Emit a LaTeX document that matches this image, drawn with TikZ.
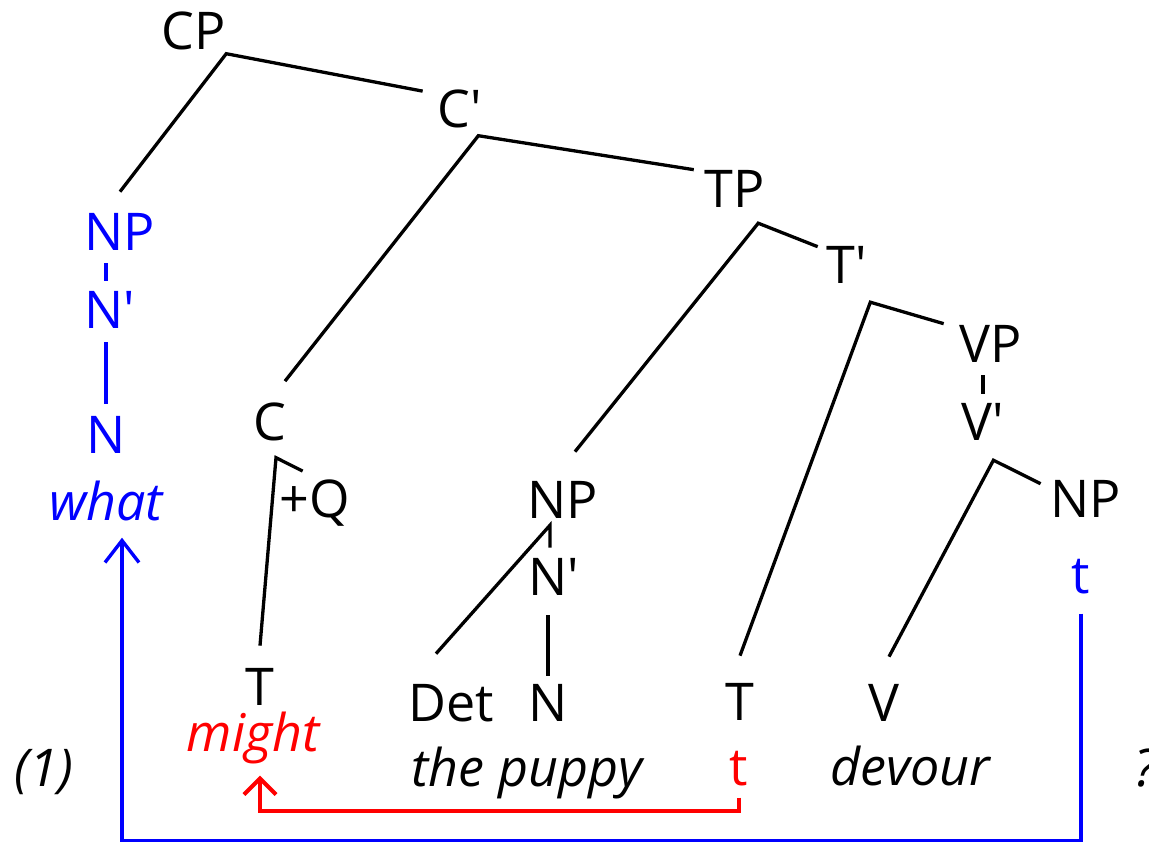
\documentclass[tikz,border=0pt]{standalone}
\usepackage{fontspec}
\setmainfont{Open Sans}
\usepackage{xcolor}
\usepackage{tikz}
\usetikzlibrary{arrows.meta}
\definecolor{TraceBlue}{RGB}{0, 0, 255}
\definecolor{TraceRed}{RGB}{255, 0, 0}
\newcommand{\treefont}{\fontsize{52}{62}\selectfont}
\newcommand{\prm}{\textquotesingle}
\tikzset{
  lbl/.style={anchor=base, inner sep=0pt, font=\treefont},
  wh/.style={lbl, text=TraceBlue},
  hd/.style={lbl, text=TraceRed},
  branch/.style={line width=3.3pt},
  whbranch/.style={branch, draw=TraceBlue},
  whmove/.style={line width=3.4pt, draw=TraceBlue, -{Straight Barb[length=22pt,width=34pt]}},
  hdmove/.style={line width=4pt, draw=TraceRed, -{Straight Barb[length=16pt,width=32pt]}},
}

\begin{document}
\begin{tikzpicture}[x=1pt, y=-1pt]
\useasboundingbox (0,0) rectangle (1149,843);
% labels
\node[lbl] (CP) at (194,50) {CP};
\node[lbl] (Cb) at (460,127) {C\prm};
\node[lbl] (TP) at (735,207) {TP};
\node[lbl] (Tb) at (847,283) {T\prm};
\node[lbl] (VP) at (991,362) {VP};
\node[lbl] (Vb) at (983,440) {V\prm};
\node[lbl] (NPr) at (1086,517) {NP};
\node[wh] (tb) at (1081,593) {t};
\node[wh] (NPw) at (120,250) {NP};
\node[wh] (Nbw) at (110,328) {N\prm};
\node[wh] (Nw) at (106,453) {N};
\node[wh] (what) at (106,520) {\itshape what};
\node[lbl] (C) at (270,440) {C};
\node[lbl] (Q) at (315,517) {+Q};
\node[lbl] (Tl) at (260,705) {T};
\node[hd] (might) at (253,751) {\itshape might};
\node[lbl] (NPm) at (563,518) {NP};
\node[lbl] (Nbm) at (554,595) {N\prm};
\node[lbl] (Det) at (451,721) {Det};
\node[lbl] (Nm) at (548,721) {N};
\node[lbl] (puppy) at (527,786) {\itshape the puppy};
\node[lbl] (Tm) at (740,720) {T};
\node[hd] (tr) at (739,785) {t};
\node[lbl] (V) at (884,721) {V};
\node[lbl] (devour) at (910,785) {\itshape devour};
\node[lbl] (ex) at (44,786) {\itshape (1)};
\node[lbl] (qm) at (1146,786) {\itshape ?};
% branches
\draw[branch] ([shift={(-15pt,-2pt)}]Cb.north west) -- ([yshift=-3pt]CP.south east) -- ([yshift=21pt]NPw.north);
\draw[branch] ([shift={(-11pt,0pt)}]TP.north west) -- ([shift={(-4pt,-8pt)}]Cb.south east) -- ([shift={(15pt,21pt)}]C.north);
\draw[branch] ([shift={(-9pt,-1pt)}]Tb.north west) -- ([shift={(-7pt,-16pt)}]TP.south east) -- ([shift={(12pt,29pt)}]NPm.north);
\draw[branch] ([shift={(-16pt,1pt)}]VP.north west) -- ([shift={(3pt,-19pt)}]Tb.south east) -- ([yshift=27pt]Tm.north);
\draw[branch, shorten <=13pt, shorten >=9pt] (VP.south -| Vb.north) -- (Vb.north);
\draw[branch] ([shift={(-10pt,-4pt)}]NPr.north west) -- ([shift={(-11pt,-20pt)}]Vb.south east) -- ([shift={(5pt,27pt)}]V.north);
\draw[branch] ([shift={(23pt,8pt)}]Q.north west) -- ([shift={(6pt,-17pt)}]C.south) -- ([yshift=22pt]Tl.north);
\draw[branch] ([xshift=-4pt,yshift=10pt]Nbm.north) -- ([shift={(-13pt,-7pt)}]NPm.south) -- ([shift={(-15pt,30pt)}]Det.north);
\draw[branch, shorten <=20pt, shorten >=8pt] (Nbm.south -| Nm.north) -- (Nm.north);
\draw[whbranch, shorten <=13pt, shorten >=10pt] (NPw.south -| Nw.north) -- (Nbw.north -| Nw.north);
\draw[whbranch, shorten <=14pt, shorten >=12pt] (Nbw.south -| Nw.north) -- (Nw.north);
% movement
\coordinate (whatfoot) at ([xshift=16pt,yshift=-17pt]what.south);
\coordinate (mightfoot) at ([xshift=7pt,yshift=-12pt]might.south);
\draw[whmove] ([yshift=-20pt]tb.south) -- ++(0,227) -| (whatfoot);
\draw[hdmove] ([yshift=-12pt]tr.south) -- ++(0,13) -| (mightfoot);
\end{tikzpicture}
\end{document}
